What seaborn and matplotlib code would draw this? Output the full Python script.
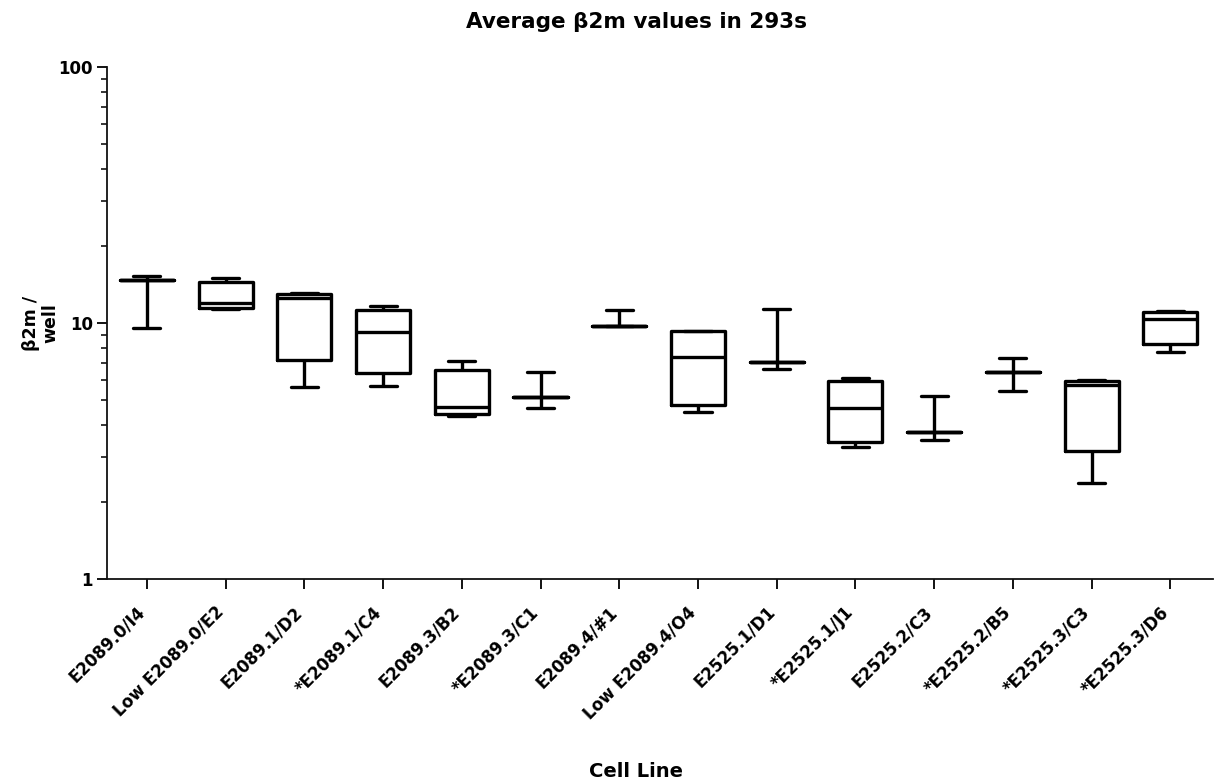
import numpy as np
import pandas as pd
import matplotlib
matplotlib.use("Agg")
import matplotlib.pyplot as plt
import matplotlib.transforms as mtransforms
import seaborn as sns
from matplotlib.ticker import FixedLocator, NullFormatter, FixedFormatter

cell_lines = ["E2089.0/I4", "Low E2089.0/E2", "E2089.1/D2", "*E2089.1/C4",
              "E2089.3/B2", "*E2089.3/C1", "E2089.4/#1", "Low E2089.4/O4",
              "E2525.1/D1", "*E2525.1/J1", "E2525.2/C3", "*E2525.2/B5",
              "*E2525.3/C3", "*E2525.3/D6"]
mins    = [9.6, 11.3, 5.6, 5.65, 4.32, 4.67, 9.75, 4.5, 6.62, 3.29, 3.48, 5.41, 2.37, 7.73]
q1s     = [14.7, 11.4, 7.2, 6.4, 4.4, 5.15, 9.75, 4.77, 7.07, 3.43, 3.74, 6.46, 3.15, 8.29]
medians = [14.7, 12.0, 12.5, 9.2, 4.7, 5.15, 9.75, 7.38, 7.07, 4.64, 3.74, 6.46, 5.75, 10.35]
q3s     = [14.7, 14.4, 13.0, 11.2, 6.56, 5.15, 9.75, 9.32, 7.07, 5.96, 3.74, 6.46, 5.96, 11.02]
maxs    = [15.2, 15.0, 13.1, 11.7, 7.1, 6.42, 11.2, 9.32, 11.3, 6.10, 5.19, 7.33, 6.0, 11.17]

title = "Average β2m values in 293s"
ylabel = "β2m /\nwell"
xlabel = "Cell Line"
ytick_vals = [1, 10, 100]
ytick_labels = ["1", "10", "100"]

rows = []
for i, name in enumerate(cell_lines):
    for v in (mins[i], q1s[i], medians[i], q3s[i], maxs[i]):
        rows.append({"cell": name, "value": v})
df = pd.DataFrame(rows)

sns.set_style("ticks")
plt.rcParams["font.family"] = ["DejaVu Sans"]
plt.rcParams["font.weight"] = "bold"
for k in ("text.color", "axes.labelcolor", "xtick.color", "ytick.color", "axes.edgecolor"):
    plt.rcParams[k] = "black"

fig = plt.figure(figsize=(12.24, 7.8), dpi=100)
ax = fig.add_axes([107/1224, 1 - 579/780, (1213 - 107)/1224, (579 - 67)/780])

sns.boxplot(data=df, x="cell", y="value", order=cell_lines, whis=(0, 100),
            fill=False, color="black", linewidth=2.4, width=0.686,
            log_scale=True, ax=ax)

ax.set_ylim(1, 100)
ax.set_xlim(-0.505, 13.54)
ax.yaxis.set_major_locator(FixedLocator(ytick_vals))
ax.yaxis.set_major_formatter(FixedFormatter(ytick_labels))
minor = [m * d for d in (1, 10) for m in range(2, 10)]
ax.yaxis.set_minor_locator(FixedLocator(minor))
ax.yaxis.set_minor_formatter(NullFormatter())

for s in ("top", "right"):
    ax.spines[s].set_visible(False)
for s in ("left", "bottom"):
    ax.spines[s].set_linewidth(1.3)
    ax.spines[s].set_color("#111111")

ax.tick_params(axis="y", which="major", length=7, width=1.3, labelsize=12, pad=3)
ax.tick_params(axis="y", which="minor", length=4, width=1.1)
ax.tick_params(axis="x", which="major", length=7, width=1.3, labelsize=12, pad=3)
for lab in ax.get_yticklabels():
    lab.set_fontweight("bold")
ax.set_xticks(range(len(cell_lines)))
ax.set_xticklabels(cell_lines, rotation=45, ha="right", rotation_mode="anchor",
                   fontweight="bold", fontsize=12)
offset = mtransforms.ScaledTranslation(-11 / 100, -10 / 100, fig.dpi_scale_trans)
for lab in ax.get_xticklabels():
    lab.set_transform(lab.get_transform() + offset)

ax.set_xlabel(xlabel, fontsize=14, fontweight="bold")
ax.xaxis.set_label_coords((636 - 107) / 1106, -(762 - 579) / 512)
ax.set_ylabel(ylabel, fontsize=12.5, fontweight="bold", linespacing=1.05)
ax.yaxis.set_label_coords(-(107 - 59) / 1106, 0.5)

fig.text(636 / 1224, 1 - 22 / 780, title, ha="center", va="center",
         fontsize=15.5, fontweight="bold")

fig.savefig("out.png", dpi=100)
